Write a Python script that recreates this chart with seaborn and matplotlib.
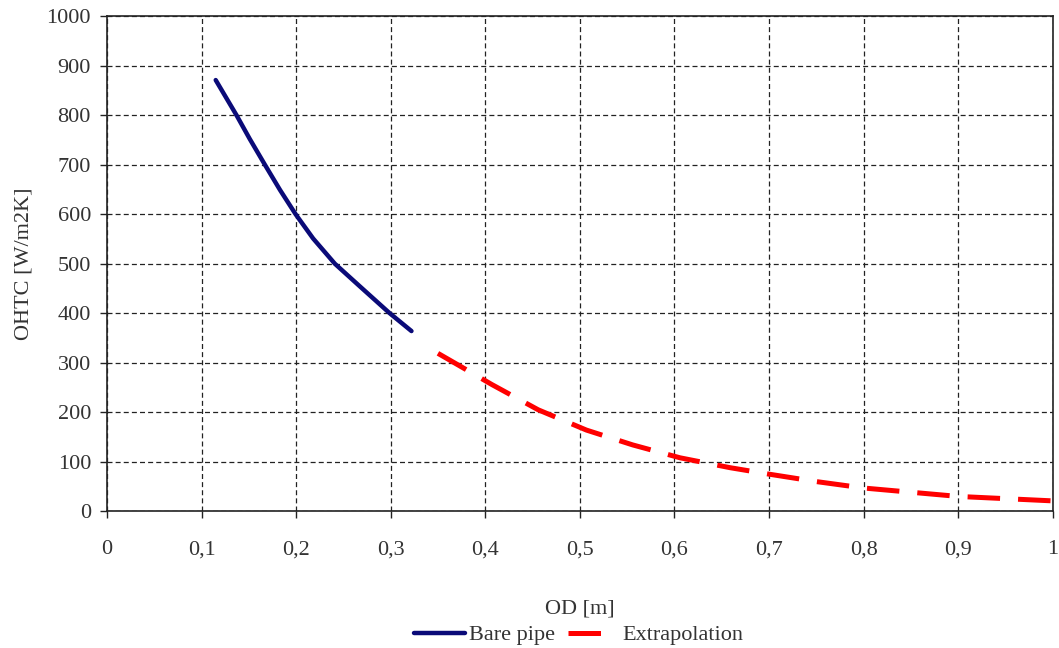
import pandas as pd
import seaborn as sns
import matplotlib.pyplot as plt
from matplotlib.ticker import FuncFormatter

# valores
bare_od = [0.115, 0.137, 0.151, 0.167, 0.183, 0.1995, 0.218, 0.241, 0.267, 0.299, 0.322]
bare_ohtc = [871, 800, 752, 700, 649, 600, 551, 500, 455, 400, 364]

extra_od = [0.350, 0.370, 0.407, 0.456, 0.507, 0.556, 0.606, 0.659, 0.70, 0.75, 0.80, 0.90, 1.00]
extra_ohtc = [319, 297, 256, 205, 164, 134, 108, 88, 75, 60, 47, 30, 21]

bare = pd.DataFrame({"OD": bare_od, "OHTC": bare_ohtc})
extra = pd.DataFrame({"OD": extra_od, "OHTC": extra_ohtc})

sns.set_style("ticks")
plt.rcParams['font.family'] = ['Liberation Serif', 'DejaVu Serif']

fig = plt.figure(figsize=(10.59, 6.48), dpi=100)
ax = fig.add_axes([0.101, 0.211, 0.893, 0.764])

sns.lineplot(data=bare, x="OD", y="OHTC", ax=ax, color="#0a0a78",
             linewidth=3.2, label="Bare pipe")
sns.lineplot(data=extra, x="OD", y="OHTC", ax=ax, color="#ff0000",
             linewidth=3.6, dashes=False, label="Extrapolation")
ax.lines[1].set_dashes([6.5, 3.6])

ax.set_xlim(0, 1)
ax.set_ylim(0, 1000)
ax.set_xticks([i / 10 for i in range(11)])
ax.set_yticks(range(0, 1001, 100))
ax.xaxis.set_major_formatter(FuncFormatter(lambda v, p: f"{v:g}".replace(".", ",")))

ax.grid(True, color="#222222", linestyle=(0, (4, 2.5)), linewidth=0.9)
for s in ax.spines.values():
    s.set_color("#222222")
    s.set_linewidth(1.2)
ax.tick_params(direction="out", length=5, width=1, colors="#222222",
               labelsize=16, labelcolor="#333333", pad=6.5)
ax.tick_params(axis="x", pad=16)

ax.set_xlabel("OD [m]", fontsize=16, color="#333333", labelpad=29)
ax.set_ylabel("OHTC [W/m2K]", fontsize=16, color="#333333", labelpad=9)

leg = ax.legend(loc="center", bbox_to_anchor=(0.499, -0.25), ncol=2,
                frameon=False, fontsize=16, handlelength=2.3,
                handletextpad=0.15, columnspacing=0.6)
leg.get_lines()[1].set_dashes([6.5, 12])
for t in leg.get_texts():
    t.set_color("#333333")

plt.savefig("out.png", dpi=100)
